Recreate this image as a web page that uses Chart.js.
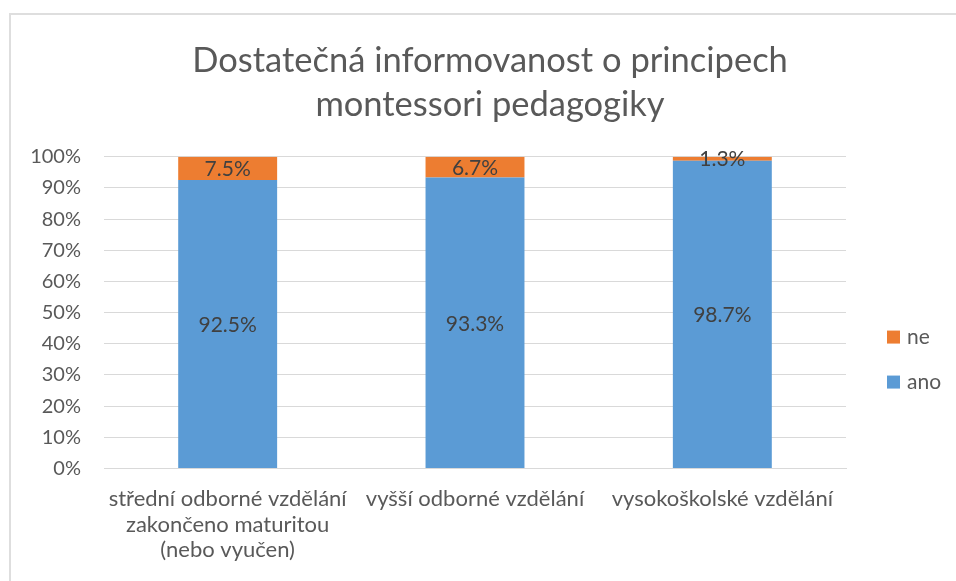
<!DOCTYPE html>
<html>
<head>
<meta charset="utf-8">
<script src="https://cdn.jsdelivr.net/npm/chart.js@4"></script>
<style>
  html, body { margin: 0; padding: 0; background: #fff; }
  #frame { position: absolute; left: 9px; top: 13px; width: 980px; height: 600px; border: 2px solid #dedede; }
  #wrap { position: absolute; left: 0; top: 0; width: 956px; height: 581px; }
</style>
</head>
<body>
<div id="frame"></div>
<div id="wrap"><canvas id="graf" width="956" height="581"></canvas></div>
<script>
const KATEGORIE = [
  ['střední odborné vzdělání', 'zakončeno maturitou', '(nebo vyučen)'],
  'vyšší odborné vzdělání',
  'vysokoškolské vzdělání'
];
const ANO = [92.5, 93.3, 98.7];
const NE = [7.5, 6.7, 1.3];
const TITULEK = ['Dostatečná informovanost o principech', 'montessori pedagogiky'];

const PISMO = 'Lato, "Open Sans", sans-serif';
const SEDA = '#595959';

// popisky hodnot uprostred sloupcu
const popisky = {
  id: 'popisky',
  afterDatasetsDraw(chart) {
    const ctx = chart.ctx;
    ctx.save();
    ctx.font = '21px ' + PISMO;
    ctx.fillStyle = '#404040';
    ctx.textAlign = 'center';
    ctx.textBaseline = 'middle';
    chart.data.datasets.forEach((ds, i) => {
      const meta = chart.getDatasetMeta(i);
      meta.data.forEach((bar, j) => {
        const y = (bar.y + bar.base) / 2;
        ctx.fillText(ds.data[j].toFixed(1) + '%', bar.x, y + 1);
      });
    });
    ctx.restore();
  }
};

// legenda vpravo (ne nahore, ano dole)
const legenda = {
  id: 'legenda',
  afterDraw(chart) {
    const ctx = chart.ctx;
    const area = chart.chartArea;
    const x = area.right + 41;
    const stred = (area.top + area.bottom) / 2 + 47;
    ctx.save();
    ctx.font = '21px ' + PISMO;
    ctx.textBaseline = 'middle';
    ctx.textAlign = 'left';
    const ds = chart.data.datasets.slice().reverse();
    ds.forEach((d, i) => {
      const y = stred + (i - 0.5) * 45;
      ctx.fillStyle = d.backgroundColor;
      ctx.fillRect(x, y - 6.5, 13, 13);
      ctx.fillStyle = SEDA;
      ctx.fillText(d.label, x + 20, y);
    });
    ctx.restore();
  }
};

new Chart(document.getElementById('graf'), {
  type: 'bar',
  data: {
    labels: KATEGORIE,
    datasets: [
      { label: 'ano', data: ANO, backgroundColor: '#5b9bd5', barPercentage: 0.4, categoryPercentage: 1 },
      { label: 'ne', data: NE, backgroundColor: '#ed7d31', barPercentage: 0.4, categoryPercentage: 1 }
    ]
  },
  options: {
    responsive: false,
    animation: false,
    layout: { padding: { left: 24, right: 0, top: 38, bottom: 8 } },
    plugins: {
      title: {
        display: true,
        text: TITULEK,
        color: SEDA,
        font: { family: PISMO, size: 34.5, weight: 'normal', lineHeight: 1.3 },
        padding: { top: 0, bottom: 29 }
      },
      legend: { display: false },
      tooltip: { enabled: false }
    },
    scales: {
      x: {
        stacked: true,
        grid: { display: false },
        border: { color: '#d9d9d9' },
        ticks: { color: SEDA, font: { family: PISMO, size: 22, lineHeight: 1.16 }, maxRotation: 0, padding: 10 }
      },
      y: {
        stacked: true,
        min: 0,
        max: 100,
        border: { display: false },
        grid: { color: '#d9d9d9', drawTicks: false },
        ticks: { stepSize: 10, color: SEDA, font: { family: PISMO, size: 20 }, padding: 23, callback: v => v + '%' },
        afterFit: s => { s.width = 80; }
      },
      // prazdne misto pro legendu vpravo
      misto: {
        position: 'right',
        type: 'linear',
        grid: { display: false },
        border: { display: false },
        ticks: { display: false },
        afterFit: s => { s.width = 110; }
      }
    }
  },
  plugins: [popisky, legenda]
});
</script>
</body>
</html>
